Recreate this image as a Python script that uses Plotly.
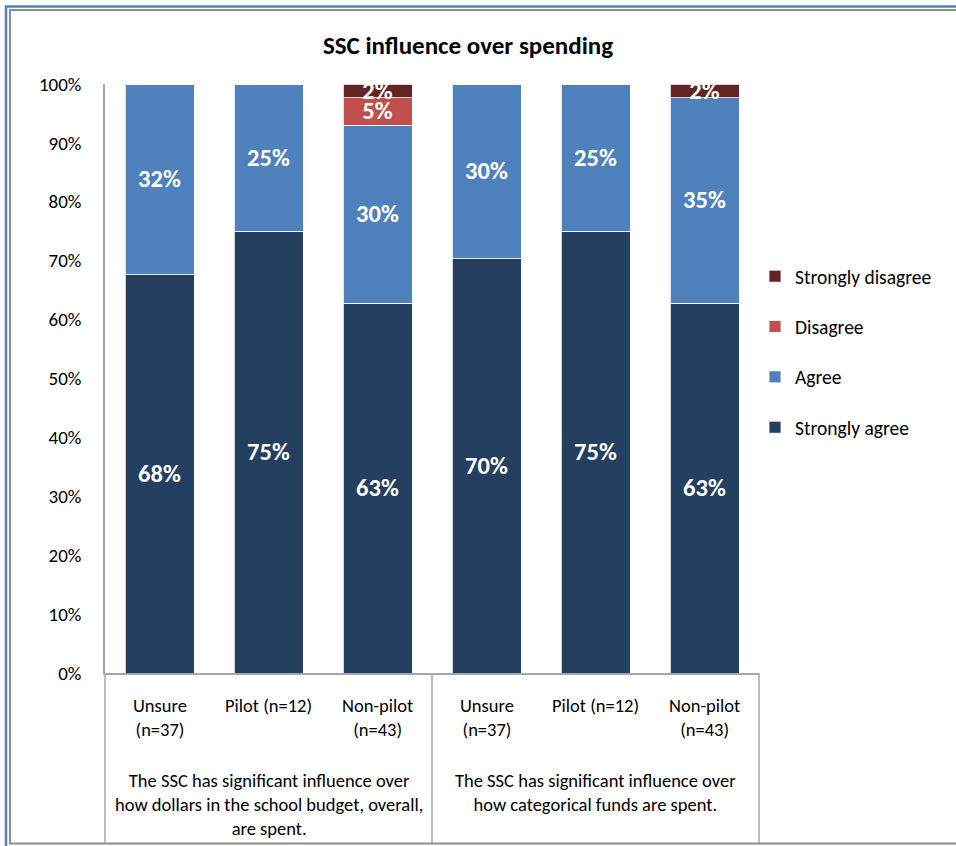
import plotly.graph_objects as go

# ---- data ----
groups = [
    "The SSC has significant influence over<br>how dollars in the school budget, overall,<br>are spent.",
    "The SSC has significant influence over<br>how categorical funds are spent.",
]
subcats = ["Unsure<br>(n=37)", "Pilot (n=12)", "Non-pilot<br>(n=43)"]
series_names = ["Strongly agree", "Agree", "Disagree", "Strongly disagree"]
strongly_agree = [67.6, 75.0, 62.8, 70.3, 75.0, 62.8]
agree = [32.4, 25.0, 30.2, 29.7, 25.0, 34.9]
disagree = [0, 0, 4.7, 0, 0, 0]
strongly_disagree = [0, 0, 2.3, 0, 0, 2.3]
y_ticks = [0, 10, 20, 30, 40, 50, 60, 70, 80, 90, 100]

colors = ["#243F60", "#4F81BD", "#C0504D", "#632523"]
values = [strongly_agree, agree, disagree, strongly_disagree]

FONT = "Carlito, Lato, sans-serif"
W, H = 956, 846
L, R, T, B = 105, 759, 84, 673
pw, ph = R - L, B - T

def px(xp):
    return (xp - L) / pw

def py(yp):
    return (B - yp) / ph

xpos = list(range(len(groups) * len(subcats)))

fig = go.Figure()
n = len(series_names)
for k, (name, vals, col) in enumerate(zip(series_names, values, colors)):
    fig.add_trace(go.Bar(
        x=xpos, y=vals, name=name,
        marker=dict(color=col, line=dict(color="white", width=0.8)),
        text=[f"{v:.0f}%" if v > 0 else "" for v in vals],
        textposition="inside", insidetextanchor="middle",
        textfont=dict(color="white", size=24.5, family=FONT),
        texttemplate="<b>%{text}</b>",
        legendgroup=name, legendrank=n - k,
        hoverinfo="skip",
    ))

shapes = []

def hline(y, x0, x1, color, width):
    shapes.append(dict(type="line", xref="paper", yref="paper",
                       x0=px(x0), x1=px(x1), y0=py(y), y1=py(y),
                       line=dict(color=color, width=width)))

def vline(x, y0, y1, color, width):
    shapes.append(dict(type="line", xref="paper", yref="paper",
                       x0=px(x), x1=px(x), y0=py(y0), y1=py(y1),
                       line=dict(color=color, width=width)))

# outer frame (blue) and inner frame (gray), open on the right
vline(6, 6, H, "#4F81BD", 2.5)
hline(6.5, 5, W, "#4F81BD", 2.5)
vline(10, 9.5, 844, "#8C8C8C", 2)
hline(10, 9, W, "#8C8C8C", 2)
hline(843.5, 9, W, "#8C8C8C", 2)
# category box lines
for xp in [L, (L + R) / 2, R]:
    vline(xp, B, 843.5, "#A6A6A6", 1.5)

annotations = []
for i, x in enumerate(xpos):
    annotations.append(dict(x=x, xref="x", y=py(692), yref="paper",
                            text=subcats[i % len(subcats)], showarrow=False,
                            yanchor="top", xanchor="center", align="center",
                            font=dict(size=18.5, color="#000", family=FONT)))
for g, name in enumerate(groups):
    cx = (xpos[g * 3] + xpos[g * 3 + 2]) / 2
    annotations.append(dict(x=cx, xref="x", y=py(767), yref="paper",
                            text=name, showarrow=False,
                            yanchor="top", xanchor="center", align="center",
                            font=dict(size=18.5, color="#000", family=FONT)))

fig.update_layout(
    width=W, height=H,
    margin=dict(l=L, r=W - R, t=T, b=H - B, autoexpand=False),
    barmode="stack", bargap=0.367,
    plot_bgcolor="white", paper_bgcolor="white",
    font=dict(family=FONT, color="#000"),
    title=dict(text="<b>SSC influence over spending</b>", x=468 / W, xref="container",
               y=1 - 45 / H, yref="container", xanchor="center", yanchor="middle",
               font=dict(size=25, family=FONT, color="#000")),
    xaxis=dict(range=[-0.5, 5.5], showticklabels=False, showgrid=False, zeroline=False,
               showline=True, linecolor="#A6A6A6", linewidth=1.5, fixedrange=True),
    yaxis=dict(range=[0, 100], tickvals=y_ticks, ticktext=[f"{v}%" for v in y_ticks],
               showgrid=False, zeroline=False, showline=True, linecolor="#A6A6A6",
               linewidth=1.5, ticks="outside", ticklen=18, tickcolor="rgba(0,0,0,0)",
               tickfont=dict(size=19, family=FONT, color="#000")),
    legend=dict(x=px(755), y=py(257), xanchor="left", yanchor="top",
                traceorder="grouped", tracegroupgap=22,
                font=dict(size=19.5, family=FONT, color="#000"),
                itemwidth=30),
    uniformtext=dict(minsize=24.5, mode="show"),
    shapes=shapes, annotations=annotations,
)

fig.write_html(
    "out.html", config={"displayModeBar": False},
    post_script=("document.body.style.margin='0';"
                 "document.body.style.overflow='hidden';"
                 "document.documentElement.style.overflow='hidden';"),
)
